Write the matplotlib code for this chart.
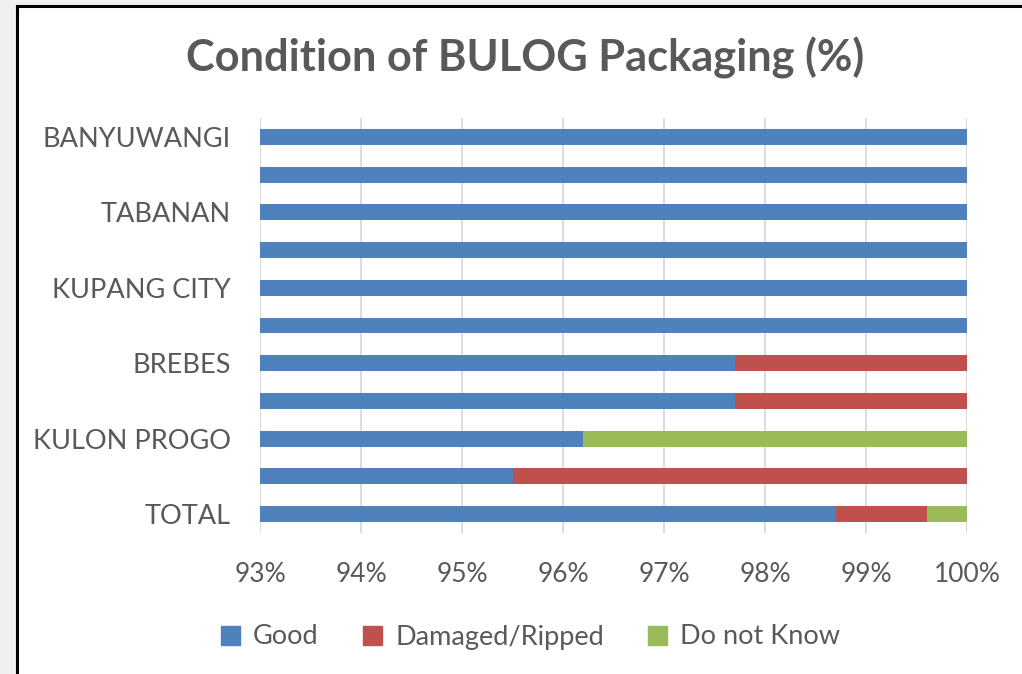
import matplotlib
matplotlib.use('Agg')
import matplotlib.pyplot as plt
from matplotlib.patches import Rectangle, Patch
import numpy as np

# rows top to bottom; Excel skipped every other label, so those stay blank
regions = ['BANYUWANGI', '', 'TABANAN', '', 'KUPANG CITY', '', 'BREBES', '',
           'KULON PROGO', '', 'TOTAL']
good = [100, 100, 100, 100, 100, 100, 97.7, 97.7, 96.2, 95.5, 98.7]
damaged = [0, 0, 0, 0, 0, 0, 2.3, 2.3, 0, 4.5, 0.9]
dont_know = [0, 0, 0, 0, 0, 0, 0, 0, 3.8, 0, 0.4]
ticks = [93, 94, 95, 96, 97, 98, 99, 100]

blue = '#4F81BD'
red = '#C0504D'
green = '#9BBB59'
grey_txt = '#595959'

plt.rcParams['font.family'] = ['Lato', 'DejaVu Sans']

fig = plt.figure(figsize=(10.22, 6.74), dpi=100)
fig.patch.set_facecolor('#F0F0F0')
# white chart frame with black border on left/top
fig.patches.append(Rectangle((17 / 1022, -0.1), 1.2, 1 - 6 / 674 + 0.1,
                             transform=fig.transFigure, facecolor='white',
                             edgecolor='black', linewidth=2.2, zorder=-10))

ax = fig.add_axes([260 / 1022, 1 - 533 / 674, (967 - 260) / 1022, (533 - 118) / 674])
ax.set_facecolor('none')

y = np.arange(len(regions))
good = np.array(good)
damaged = np.array(damaged)
dont_know = np.array(dont_know)
h = 0.42
ax.barh(y, good, height=h, color=blue, zorder=3, label='Good')
ax.barh(y, damaged, left=good, height=h, color=red, zorder=3, label='Damaged/Ripped')
ax.barh(y, dont_know, left=good + damaged, height=h, color=green, zorder=3, label='Do not Know')

ax.set_xlim(93, 100)
ax.set_ylim(len(regions) - 0.5, -0.5)
ax.set_xticks(ticks)
ax.set_xticklabels([f'{t}%' for t in ticks])
ax.set_yticks(y)
ax.set_yticklabels(regions)
ax.tick_params(axis='x', length=0, labelsize=19, colors=grey_txt, pad=21)
ax.tick_params(axis='y', length=0, labelsize=19.5, colors=grey_txt, pad=21)
ax.xaxis.grid(True, color='#D9D9D9', linewidth=1.3, zorder=0)
for s in ax.spines.values():
    s.set_visible(False)

fig.text(0.514, 1 - 58 / 674, 'Condition of BULOG Packaging (%)', ha='center', va='center',
         fontsize=31.2, fontweight='bold', color=grey_txt)

handles = [Patch(color=blue), Patch(color=red), Patch(color=green)]
fig.legend(handles, ['Good', 'Damaged/Ripped', 'Do not Know'], loc='center',
           bbox_to_anchor=(0.519, 1 - 637 / 674), ncol=3, frameon=False,
           fontsize=19.5, labelcolor=grey_txt, handlelength=0.7, handleheight=0.7,
           handletextpad=0.5, columnspacing=1.62)

plt.savefig('out.png', dpi=100, facecolor=fig.get_facecolor())
